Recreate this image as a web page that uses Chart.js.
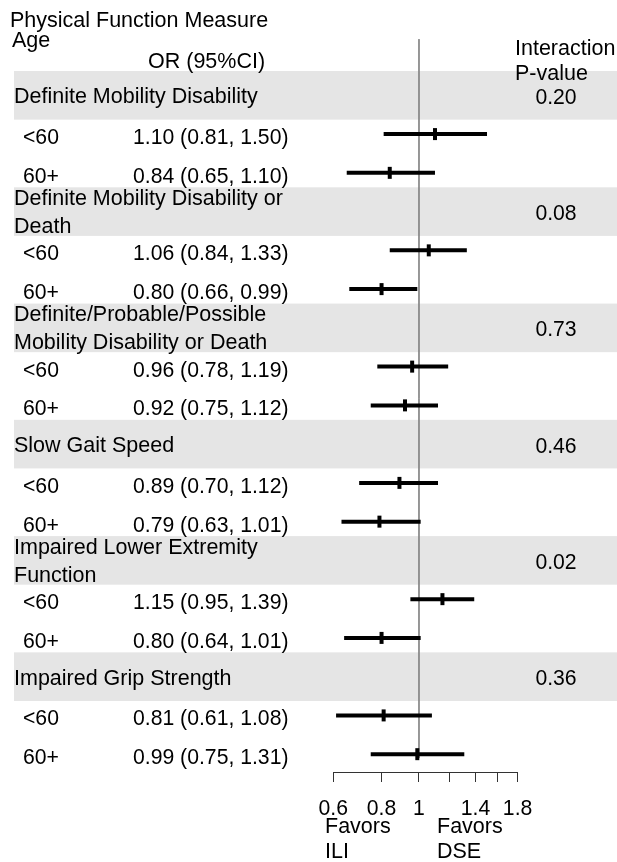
<!DOCTYPE html>
<html>
<head>
<meta charset="utf-8">
<script src="https://cdn.jsdelivr.net/npm/chart.js@4.4.1/dist/chart.umd.min.js"></script>
<style>
  html, body { margin: 0; padding: 0; background: #fff; }
  canvas { display: block; }
</style>
</head>
<body>
<canvas id="forest" width="617" height="862"></canvas>
<script>
// ===== data =====
const measures = [
  ['Definite Mobility Disability'],
  ['Definite Mobility Disability or', 'Death'],
  ['Definite/Probable/Possible', 'Mobility Disability or Death'],
  ['Slow Gait Speed'],
  ['Impaired Lower Extremity', 'Function'],
  ['Impaired Grip Strength']
];
const pInteraction = ['0.20', '0.08', '0.73', '0.46', '0.02', '0.36'];
const ageGroups = ['<60', '60+'];
// one entry per measure x age group (<60, 60+)
const orEst  = [1.10, 0.84, 1.06, 0.80, 0.96, 0.92, 0.89, 0.79, 1.15, 0.80, 0.81, 0.99];
const ciLow  = [0.81, 0.65, 0.84, 0.66, 0.78, 0.75, 0.70, 0.63, 0.95, 0.64, 0.61, 0.75];
const ciHigh = [1.50, 1.10, 1.33, 0.99, 1.19, 1.12, 1.12, 1.01, 1.39, 1.01, 1.08, 1.31];
const xTicks = [0.6, 0.8, 1, 1.2, 1.4, 1.6, 1.8];
const xTickLabels = [0.6, 0.8, 1, 1.4, 1.8];

// rows: each measure gets a header row then one row per age group
const rowOf = (i) => Math.floor(i / 2) * 3 + 1 + (i % 2);
const nRows = measures.length * 3;

const FAMILY = '"Liberation Sans", Arial, sans-serif';
const FONT = '21.5px ' + FAMILY;
const NUMFONT = '21.2px ' + FAMILY;
const fmt = (v) => v.toFixed(2);

// CI lines, one dataset each
const ciSets = orEst.map((_, i) => ({
  type: 'line',
  data: [{x: ciLow[i], y: rowOf(i)}, {x: ciHigh[i], y: rowOf(i)}],
  borderColor: '#000', borderWidth: 4, borderCapStyle: 'butt',
  pointRadius: 0, clip: false
}));

const pointSet = {
  type: 'scatter',
  data: orEst.map((v, i) => ({x: v, y: rowOf(i)})),
  pointStyle: 'line', rotation: 90, radius: 6,
  borderColor: '#000', backgroundColor: '#000', borderWidth: 4, clip: false
};

const refLine = {
  type: 'line',
  data: [{x: 1, y: -1.45}, {x: 1, y: nRows - 0.9}],
  borderColor: '#888', borderWidth: 1, pointRadius: 0
};

// bands + text columns
const forestText = {
  id: 'forestText',
  beforeDatasetsDraw(chart) {
    const ctx = chart.ctx, ys = chart.scales.y;
    ctx.save();
    ctx.fillStyle = '#e5e5e5';
    measures.forEach((m, g) => {
      const y = ys.getPixelForValue(g * 3);
      ctx.fillRect(14, y - 24.3, 617 - 14, 48.6);
    });
    ctx.restore();
  },
  afterDatasetsDraw(chart) {
    const ctx = chart.ctx, ys = chart.scales.y;
    ctx.save();
    ctx.font = FONT;
    ctx.fillStyle = '#000';
    ctx.textBaseline = 'alphabetic';
    ctx.textAlign = 'left';
    // column headers
    ctx.fillText('Physical Function Measure', 10, 27);
    ctx.fillText('Age', 12, 47);
    ctx.fillText('OR (95%CI)', 148, 68);
    ctx.fillText('Interaction', 515, 55);
    ctx.fillText('P-value', 515, 80);

    measures.forEach((lines, g) => {
      const y = ys.getPixelForValue(g * 3);
      ctx.font = FONT;
      if (lines.length === 1) {
        ctx.fillText(lines[0], 14, y + 8);
      } else {
        ctx.fillText(lines[0], 14, y - 6.5);
        ctx.fillText(lines[1], 14, y + 21.5);
      }
      ctx.font = NUMFONT;
      ctx.textAlign = 'center';
      ctx.fillText(pInteraction[g], 556, y + 8.5);
      ctx.textAlign = 'left';
    });

    ctx.font = NUMFONT;
    orEst.forEach((v, i) => {
      const y = ys.getPixelForValue(rowOf(i));
      ctx.fillText(ageGroups[i % 2], 23, y + 10);
      ctx.fillText(fmt(v) + ' (' + fmt(ciLow[i]) + ', ' + fmt(ciHigh[i]) + ')', 133, y + 10);
    });

    // favors labels under the axis
    ctx.font = FONT;
    ctx.fillText('Favors', 325, 833);
    ctx.fillText('ILI', 325, 858);
    ctx.fillText('Favors', 437, 833);
    ctx.fillText('DSE', 437, 858);
    ctx.restore();
  }
};

new Chart(document.getElementById('forest'), {
  type: 'scatter',
  data: { datasets: [pointSet, ...ciSets, refLine] },
  options: {
    responsive: false,
    animation: false,
    devicePixelRatio: 1,
    layout: { autoPadding: false, padding: { left: 333.3, right: 99.4, top: 0, bottom: 0 } },
    plugins: { legend: { display: false }, tooltip: { enabled: false } },
    scales: {
      x: {
        type: 'logarithmic',
        min: 0.6, max: 1.8,
        afterBuildTicks: (scale) => { scale.ticks = xTicks.map(v => ({value: v})); },
        afterFit: (scale) => { scale.height = 90; },
        ticks: {
          autoSkip: false, maxRotation: 0, padding: 14,
          color: '#000', font: { family: FAMILY, size: 21.2 },
          callback: (v) => xTickLabels.includes(v) ? String(v) : ''
        },
        grid: { drawOnChartArea: false, drawTicks: true, tickLength: 10, color: '#333' },
        border: { display: true, color: '#333', width: 1 }
      },
      y: {
        type: 'linear', reverse: true, display: false,
        min: -2.46, max: 17.46
      }
    }
  },
  plugins: [forestText]
});
</script>
</body>
</html>
